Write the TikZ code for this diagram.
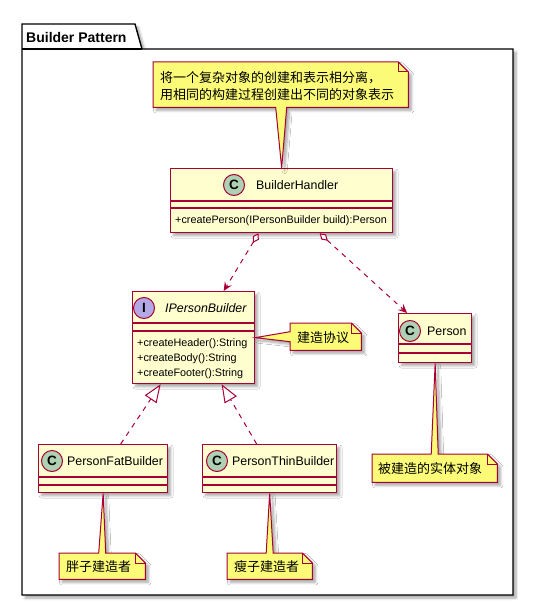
\documentclass[tikz,border=0pt]{standalone}
\usepackage{fontspec}
\setmainfont{Liberation Sans}
\newfontfamily\cjk{Noto Sans CJK SC}
\usetikzlibrary{arrows.meta,shadows.blur,calc}

\definecolor{umlborder}{HTML}{A80036}
\definecolor{classfill}{HTML}{FEFECE}
\definecolor{notefill}{HTML}{FBFB77}
\definecolor{badgeC}{HTML}{ADD1B2}
\definecolor{badgeI}{HTML}{B4A7E5}

\tikzset{
  softshadow/.style={blur shadow={shadow xshift=3pt,shadow yshift=-3pt,
      shadow blur radius=2.5pt,shadow blur steps=6,shadow opacity=35}},
  pkgline/.style={draw=black,line width=1.4pt},
  pkgtitle/.style={anchor=west,inner sep=0pt,font=\bfseries\fontsize{14}{16}\selectfont},
  classbox/.style={draw=umlborder,fill=classfill,line width=1.3pt,inner sep=0pt,
      anchor=north west,softshadow},
  classline/.style={draw=umlborder,line width=1.3pt},
  badge/.style={circle,draw=umlborder,line width=1pt,minimum size=21pt,inner sep=0pt,
      font=\bfseries\fontsize{13.5}{16}\selectfont},
  clname/.style={anchor=west,inner sep=0pt,font=\fontsize{12.4}{15}\selectfont},
  member/.style={anchor=west,inner sep=0pt,font=\fontsize{10.8}{13}\selectfont},
  notearea/.style={inner sep=0pt,anchor=north west},
  notebody/.style={draw=umlborder,fill=notefill,line width=1pt,line join=miter,softshadow},
  notefold/.style={draw=umlborder,line width=1pt},
  notetext/.style={anchor=west,inner sep=0pt,align=left,font=\cjk\fontsize{13}{17}\selectfont},
  dep/.style={draw=umlborder,line width=1pt,dash pattern=on 5pt off 5pt},
  realize/.style={draw=umlborder,line width=1pt,dash pattern=on 5pt off 5pt,
      -{Triangle[open,length=18pt,width=14pt,fill=white]}},
}

\begin{document}
\begin{tikzpicture}[x=1pt,y=-1pt]
\useasboundingbox (0,0) rectangle (534,607);

% package frame with its tab
\draw[pkgline,fill=white,softshadow] (22,49) -- (22,24) -- (135,24) -- (142,49)
  -- (513,49) -- (513,595) -- (22,595) -- cycle;
\draw[pkgline] (22,49) -- (142,49);
\node[pkgtitle] (pkgname) at (26,37) {Builder Pattern};

% ---------- classes ----------
% BuilderHandler
\node[classbox,minimum width=222pt,minimum height=64pt] (bh) at (170,168) {};
\draw[classline] ([yshift=-33pt]bh.north west) -- ([yshift=-33pt]bh.north east);
\draw[classline] ([yshift=-40pt]bh.north west) -- ([yshift=-40pt]bh.north east);
\node[badge,fill=badgeC] (bhbadge) at (234,185) {C};
\node[clname] (bhname) at (256,185) {BuilderHandler};
\node[member] (bhm1) at (175,221) {+createPerson(IPersonBuilder build):Person};

% IPersonBuilder
\node[classbox,minimum width=122pt,minimum height=92pt] (ipb) at (132,291) {};
\draw[classline] ([yshift=-32pt]ipb.north west) -- ([yshift=-32pt]ipb.north east);
\draw[classline] ([yshift=-40pt]ipb.north west) -- ([yshift=-40pt]ipb.north east);
\node[badge,fill=badgeI] (ipbbadge) at (144,308) {I};
\node[clname,font=\fontsize{12.4}{15}\selectfont\itshape] (ipbname) at (165,308) {IPersonBuilder};
\node[member] (ipbm1) at (137,344) {+createHeader():String};
\node[member] (ipbm2) at (137,359) {+createBody():String};
\node[member] (ipbm3) at (137,374) {+createFooter():String};

% Person
\node[classbox,minimum width=73pt,minimum height=49pt] (person) at (398,313) {};
\draw[classline] ([yshift=-31pt]person.north west) -- ([yshift=-31pt]person.north east);
\draw[classline] ([yshift=-40pt]person.north west) -- ([yshift=-40pt]person.north east);
\node[badge,fill=badgeC] (personbadge) at (410,331) {C};
\node[clname] (personname) at (427,331) {Person};

% PersonFatBuilder
\node[classbox,minimum width=129pt,minimum height=48pt] (pfb) at (38,444) {};
\draw[classline] ([yshift=-33pt]pfb.north west) -- ([yshift=-33pt]pfb.north east);
\draw[classline] ([yshift=-41pt]pfb.north west) -- ([yshift=-41pt]pfb.north east);
\node[badge,fill=badgeC] (pfbbadge) at (52,461) {C};
\node[clname] (pfbname) at (67,461) {PersonFatBuilder};

% PersonThinBuilder
\node[classbox,minimum width=134pt,minimum height=48pt] (ptb) at (202,444) {};
\draw[classline] ([yshift=-33pt]ptb.north west) -- ([yshift=-33pt]ptb.north east);
\draw[classline] ([yshift=-41pt]ptb.north west) -- ([yshift=-41pt]ptb.north east);
\node[badge,fill=badgeC] (ptbbadge) at (217,461) {C};
\node[clname] (ptbname) at (232,461) {PersonThinBuilder};

% ---------- notes ----------
% note above BuilderHandler
\node[notearea,minimum width=255pt,minimum height=45pt] (n1) at (153,62) {};
\draw[notebody] (n1.north west) -- ([xshift=-10pt]n1.north east) -- ([yshift=-10pt]n1.north east)
  -- (n1.south east) -- ([xshift=6pt]n1.south) -- (bh.north) -- ([xshift=-5pt]n1.south)
  -- (n1.south west) -- cycle;
\draw[notefold] ([xshift=-10pt]n1.north east) -- ([xshift=-10pt,yshift=-10pt]n1.north east)
  -- ([yshift=-10pt]n1.north east);
\node[notetext] (n1text) at (160,86.5) {将一个复杂对象的创建和表示相分离，\\用相同的构建过程创建出不同的对象表示};

% note beside IPersonBuilder
\node[notearea,minimum width=71pt,minimum height=27pt] (n2) at (290,323) {};
\draw[notebody] (n2.north west) -- ([xshift=-10pt]n2.north east) -- ([yshift=-10pt]n2.north east)
  -- (n2.south east) -- (n2.south west) -- ([yshift=-5pt]n2.west) -- (ipb.east)
  -- ([yshift=5pt]n2.west) -- cycle;
\draw[notefold] ([xshift=-10pt]n2.north east) -- ([xshift=-10pt,yshift=-10pt]n2.north east)
  -- ([yshift=-10pt]n2.north east);
\node[notetext] (n2text) at (297,337.5) {建造协议};

% note below Person
\node[notearea,minimum width=125pt,minimum height=28pt] (n3) at (372,454) {};
\draw[notebody] (n3.north west) -- ([xshift=-3.5pt]n3.north) -- (person.south) -- ([xshift=3.5pt]n3.north)
  -- ([xshift=-10pt]n3.north east) -- ([yshift=-10pt]n3.north east)
  -- (n3.south east) -- (n3.south west) -- cycle;
\draw[notefold] ([xshift=-10pt]n3.north east) -- ([xshift=-10pt,yshift=-10pt]n3.north east)
  -- ([yshift=-10pt]n3.north east);
\node[notetext] (n3text) at (378,468.5) {被建造的实体对象};

% note below PersonFatBuilder
\node[notearea,minimum width=86pt,minimum height=26pt] (n4) at (59,553) {};
\draw[notebody] (n4.north west) -- ([xshift=-3.5pt]n4.north) -- (pfb.south) -- ([xshift=3.5pt]n4.north)
  -- ([xshift=-10pt]n4.north east) -- ([yshift=-10pt]n4.north east)
  -- (n4.south east) -- (n4.south west) -- cycle;
\draw[notefold] ([xshift=-10pt]n4.north east) -- ([xshift=-10pt,yshift=-10pt]n4.north east)
  -- ([yshift=-10pt]n4.north east);
\node[notetext] (n4text) at (66,566.5) {胖子建造者};

% note below PersonThinBuilder
\node[notearea,minimum width=85pt,minimum height=26pt] (n5) at (227,553) {};
\draw[notebody] (n5.north west) -- ([xshift=-3.5pt]n5.north) -- (ptb.south) -- ([xshift=3.5pt]n5.north)
  -- ([xshift=-10pt]n5.north east) -- ([yshift=-10pt]n5.north east)
  -- (n5.south east) -- (n5.south west) -- cycle;
\draw[notefold] ([xshift=-10pt]n5.north east) -- ([xshift=-10pt,yshift=-10pt]n5.north east)
  -- ([yshift=-10pt]n5.north east);
\node[notetext] (n5text) at (234,566.5) {瘦子建造者};

% ---------- relations ----------
\draw[dep,{Diamond[length=11pt,width=7pt,fill=white]}-{Stealth[length=9pt,width=8pt,inset=3.5pt]}]
  ([xshift=-23pt]bh.south) -- ([xshift=30pt]ipb.north);
\draw[dep,{Diamond[length=11pt,width=7pt,fill=white]}-{Stealth[length=9pt,width=8pt,inset=3.5pt]}]
  ([xshift=38pt]bh.south) -- ([xshift=-28pt]person.north);
\draw[realize] ([xshift=17.5pt]pfb.north) -- ([xshift=-33pt]ipb.south);
\draw[realize] ([xshift=-13pt]ptb.north) -- ([xshift=28pt]ipb.south);
\end{tikzpicture}
\end{document}
